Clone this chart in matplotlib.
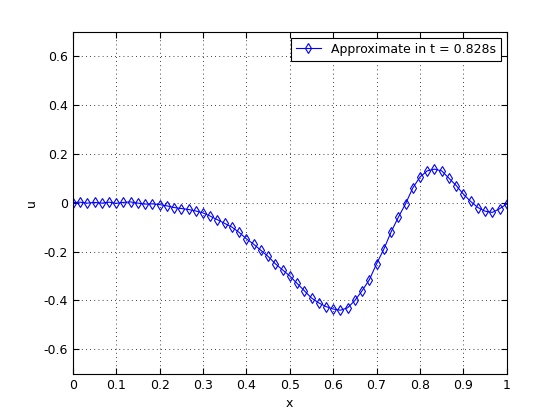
import numpy as np
import matplotlib
matplotlib.use("Agg")
import matplotlib.pyplot as plt

x = np.arange(61) / 60.0
u = [0, 0.002, -0.002, 0.001, -0.002, 0.002, -0.003, 0.001, 0.003, -0.002,
     -0.006, -0.005, -0.008, -0.013, -0.02, -0.024, -0.028, -0.034, -0.042, -0.055,
     -0.07, -0.085, -0.1, -0.122, -0.148, -0.17, -0.195, -0.22, -0.25, -0.275,
     -0.30, -0.33, -0.36, -0.39, -0.41, -0.425, -0.435, -0.44, -0.43, -0.40,
     -0.36, -0.315, -0.25, -0.19, -0.12, -0.06, -0.005, 0.06, 0.105, 0.13,
     0.137, 0.13, 0.10, 0.07, 0.035, 0.005, -0.02, -0.035, -0.04, -0.025, -0.005]
xticks = [0, 0.1, 0.2, 0.3, 0.4, 0.5, 0.6, 0.7, 0.8, 0.9, 1]
yticks = [-0.6, -0.4, -0.2, 0, 0.2, 0.4, 0.6]

fig = plt.figure(figsize=(5.6, 4.2), dpi=100)
ax = fig.add_axes([0.13, 0.11, 0.775, 0.815])
ax.plot(x, u, color='blue', lw=0.8, marker='d', markersize=5.5, markerfacecolor='none',
        markeredgewidth=0.8, label='Approximate in t = 0.828s')
ax.set_xlim(0, 1)
ax.set_ylim(-0.7, 0.7)
ax.set_xticks(xticks)
ax.set_xticklabels([f"{t:g}" for t in xticks])
ax.set_yticks(yticks)
ax.set_yticklabels([f"{t:g}" for t in yticks])
ax.grid(True, linestyle=(0, (1, 4)), color='black', lw=0.6)
ax.tick_params(direction='in', labelsize=9, top=True, right=True, length=4)
ax.set_xlabel('x', fontsize=9)
ax.set_ylabel('u', fontsize=9)
leg = ax.legend(loc='upper right', fontsize=9, fancybox=False, edgecolor='black', framealpha=1)
leg.get_frame().set_linewidth(0.8)
fig.savefig('out.png', dpi=100)
